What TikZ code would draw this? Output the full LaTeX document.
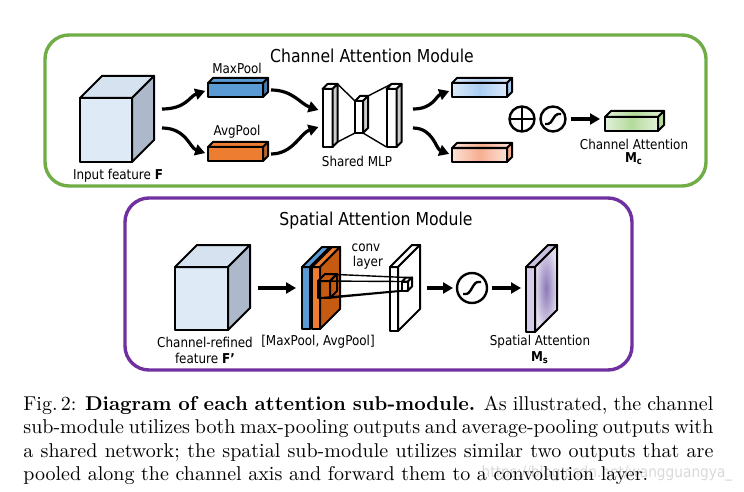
\documentclass[tikz,border=0pt]{standalone}
\usepackage{fontspec}
\usepackage{tikz}
\usetikzlibrary{arrows.meta, calc, positioning}

\newfontfamily\diagfont[FakeStretch=0.88]{DejaVu Sans}

\definecolor{framegreen}{HTML}{70AD47}
\definecolor{framepurple}{HTML}{7030A0}
\definecolor{cubefront}{HTML}{DEEBF7}
\definecolor{cubetop}{HTML}{D6E2EF}
\definecolor{cubeside}{HTML}{ADB9CA}
\definecolor{maxblue}{HTML}{5B9BD5}
\definecolor{avgorange}{HTML}{ED7D31}
\definecolor{darkorange}{HTML}{C55A11}
\definecolor{softblue}{HTML}{DCE9F9}
\definecolor{midblue}{HTML}{A9CDF2}
\definecolor{softsalmon}{HTML}{FCE1D6}
\definecolor{midsalmon}{HTML}{F6AE90}
\definecolor{softgreen}{HTML}{E2F0D9}
\definecolor{midgreen}{HTML}{B4DB9C}
\definecolor{lavfront}{HTML}{D5CCEA}
\definecolor{lavtop}{HTML}{CBC0E2}
\definecolor{lavmid}{HTML}{8B78B6}
\definecolor{lavedge}{HTML}{E2DCEF}

% box with front face as a node: name, position, size, depth, front, top, side
\newcommand{\cuboid}[7]{%
  \node[face, #3, #5] (#1) at #2 {};
  \draw[face, #6] (#1.north west) -- ++(#4,-#4) -- ($(#1.north east)+(#4,-#4)$) -- (#1.north east) -- cycle;
  \draw[face, #7] (#1.north east) -- ++(#4,-#4) -- ($(#1.south east)+(#4,-#4)$) -- (#1.south east) -- cycle;
}

\begin{document}
\begin{tikzpicture}[x=0.5pt, y=-0.5pt,
  face/.style={draw, line width=1pt, inner sep=0pt, outer sep=0pt, line join=round},
  thinline/.style={line width=0.7pt},
  frame/.style={line width=1.7pt, rounded corners=12pt},
  flow/.style={line width=1.6pt, -{Triangle[length=5pt,width=5.5pt]}},
  opnode/.style={circle, draw, line width=1.2pt, inner sep=0pt, outer sep=0pt},
  bar/.style={minimum width=27.5pt, minimum height=7pt},
  slab/.style={minimum width=4pt, minimum height=31pt},
  ttl/.style={font=\diagfont\fontsize{8.9}{10}\selectfont, inner sep=0pt},
  lbl/.style={font=\diagfont\fontsize{6.8}{8}\selectfont, inner sep=0pt},
  caption/.style={anchor=base west, inner sep=0pt, font=\fontsize{10}{12}\selectfont}]

\useasboundingbox (0,0) rectangle (744,492);

% channel attention module
\draw[frame, draw=framegreen] (45,35) rectangle (706,186);
\node[ttl] (cam) at (372,56) {Channel Attention Module};

\cuboid{F}{(106,130)}{minimum width=26pt, minimum height=32pt}{22}{fill=cubefront}{fill=cubetop}{fill=cubeside}
\node[lbl] (Flbl) at (118,176) {Input feature \textbf{F}};

\cuboid{maxp}{(235.5,90)}{bar}{5}{fill=maxblue}{fill=maxblue}{fill=maxblue!80!black}
\cuboid{avgp}{(235.5,154)}{bar}{5}{fill=avgorange}{fill=avgorange}{fill=avgorange!80!black}
\node[lbl] (maxlbl) at (237,68) {MaxPool};
\node[lbl] (avglbl) at (237,132) {AvgPool};

\coordinate (f1) at (162,109);
\coordinate (f2) at (162,128);
\draw[flow, shorten >=1.5pt] (f1) .. controls +(24,0) and +(-18,6) .. (maxp.west);
\draw[flow, shorten >=1.5pt] (f2) .. controls +(24,0) and +(-18,-6) .. (avgp.west);

% shared MLP
\cuboid{mlpa}{(327.5,118)}{minimum width=5pt, minimum height=29pt}{5}{fill=white}{fill=white}{fill=gray!40}
\cuboid{mlpb}{(359,117)}{minimum width=4pt, minimum height=16pt}{5}{fill=white}{fill=white}{fill=gray!40}
\cuboid{mlpc}{(391.5,118)}{minimum width=5pt, minimum height=29pt}{5}{fill=white}{fill=white}{fill=gray!40}
\draw[thinline] ($(mlpa.north east)+(5,-5)$) -- (mlpb.north west);
\draw[thinline] ($(mlpa.south east)+(5,-5)$) -- (mlpb.south west);
\draw[thinline] ($(mlpb.north east)+(5,-5)$) -- ($(mlpc.north west)+(5,-5)$);
\draw[thinline] (mlpb.south east) -- (mlpc.south west);
\node[lbl] (mlplbl) at (357,161) {Shared MLP};

\draw[flow] ($(maxp.east)+(8,0)$) .. controls +(22,0) and +(-18,-6) .. ($(mlpa.west)+(-4,-8)$);
\draw[flow] ($(avgp.east)+(8,0)$) .. controls +(22,0) and +(-18,6) .. ($(mlpa.west)+(-4,9)$);

\cuboid{outmax}{(479.5,90)}{bar}{5}{left color=softblue, right color=softblue, middle color=midblue}{left color=softblue, right color=softblue, middle color=midblue}{fill=midblue}
\cuboid{outavg}{(479.5,155)}{bar}{5}{left color=softsalmon, right color=softsalmon, middle color=midsalmon}{left color=softsalmon, right color=softsalmon, middle color=midsalmon}{fill=midsalmon}

\draw[flow, shorten >=1.5pt] ($(mlpc.east)+(16.5,-9)$) .. controls +(20,0) and +(-16,6) .. (outmax.west);
\draw[flow, shorten >=1.5pt] ($(mlpc.east)+(16.5,10)$) .. controls +(20,0) and +(-16,-6) .. (outavg.west);

\node[opnode, minimum size=12.5pt] (plus) at (522,119) {};
\draw[line width=1.2pt] (plus.north) -- (plus.south) (plus.west) -- (plus.east);
\node[opnode, minimum size=12.5pt] (csig) at (553,119) {};
\draw[line width=1.2pt] ($(csig.center)+(-8,5)$) -- ++(3,0) .. controls +(4,0) and +(-4,0) .. ($(csig.center)+(5,-5)$) -- ++(3,0);

\cuboid{ca}{(631.5,124)}{minimum width=26.5pt, minimum height=7pt}{6}{left color=softgreen, right color=softgreen, middle color=midgreen}{left color=softgreen, right color=softgreen, middle color=midgreen}{fill=midgreen}
\draw[flow, shorten <=2.5pt, shorten >=2.5pt] (csig.east) -- (csig.east -| ca.west);
\node[lbl] (calbl) at (634,144) {Channel Attention};
\node[lbl] (mc) at (634,159) {\textbf{M}\textsubscript{\textbf{c}}};

% spatial attention module
\draw[frame, draw=framepurple] (125,198) rectangle (632,370);
\node[ttl] (sam) at (376,221) {Spatial Attention Module};

\cuboid{Fp}{(201.5,298.5)}{minimum width=26.5pt, minimum height=31.5pt}{22}{fill=cubefront}{fill=cubetop}{fill=cubeside}
\node[lbl] (Fplbl) at (205,342) {Channel-refined};
\node[lbl] (Fpname) at (205,358) {feature \textbf{F’}};

\cuboid{smax}{(306,298)}{slab}{20}{fill=maxblue}{fill=maxblue}{fill=maxblue}
\cuboid{savg}{(316,298)}{slab}{20}{fill=avgorange}{fill=avgorange}{fill=darkorange}
\node[lbl] (poollbl) at (318,342) {[MaxPool, AvgPool]};
\draw[flow, shorten >=3pt] ($(Fp.east)+(30,-10.5)$) -- ($(smax.west)+(0,-10)$);

\cuboid{kern}{(324,289.5)}{minimum width=6pt, minimum height=8.5pt}{7}{}{}{}
\cuboid{conv}{(394,299)}{minimum width=4pt, minimum height=32pt}{22}{fill=white}{fill=white}{fill=white}
\cuboid{kout}{(405,286)}{minimum width=3pt, minimum height=4.5pt}{4}{fill=white}{fill=white}{fill=white}
\draw[thinline] ($(kern.north west)+(7,-7)$) -- ($(kout.north west)+(4,-4)$);
\draw[thinline] (kern.north west) -- (kout.north west);
\draw[thinline] (kern.south west) -- (kout.south west);
\draw[thinline] (kern.south east) -- (kout.south east);
\node[lbl] (convlbl) at (366,248) {conv};
\node[lbl] (layerlbl) at (368,263) {layer};

\node[opnode, minimum size=15pt] (ssig) at (472,288) {};
\draw[line width=1.2pt] ($(ssig.center)+(-9,6)$) -- ++(3,0) .. controls +(5,0) and +(-5,0) .. ($(ssig.center)+(6,-6)$) -- ++(3,0);
\draw[flow, shorten >=2pt] ($(conv.east)+(29,-11)$) -- (ssig.west);

\cuboid{sa}{(530.5,299.5)}{minimum width=4.5pt, minimum height=32.5pt}{22}{fill=lavfront}{fill=lavtop}{inner color=lavmid, outer color=lavedge}
\draw[flow, shorten <=2.5pt, shorten >=2.5pt] (ssig.east) -- (ssig.east -| sa.west);
\node[lbl] (salbl) at (540,342) {Spatial Attention};
\node[lbl] (ms) at (540,358) {\textbf{M}\textsubscript{\textbf{s}}};

% caption
\node[font=\diagfont\fontsize{7.8}{9}\selectfont, text=gray!30, inner sep=0pt] (wmark) at (607,473) {https://blog.csdn.net/wangguangya\_};
\node[caption] (cap1) at (23,410) {\makebox[345pt][s]{Fig.\,2: \textbf{Diagram of each attention sub-module.} As illustrated, the channel}};
\node[caption] (cap2) at (23,433) {\makebox[345pt][s]{sub-module utilizes both max-pooling outputs and average-pooling outputs with}};
\node[caption] (cap3) at (23,457) {\makebox[345pt][s]{a shared network; the spatial sub-module utilizes similar two outputs that are}};
\node[caption] (cap4) at (23,480) {pooled along the channel axis and forward them to a convolution layer.};
\end{tikzpicture}
\end{document}
